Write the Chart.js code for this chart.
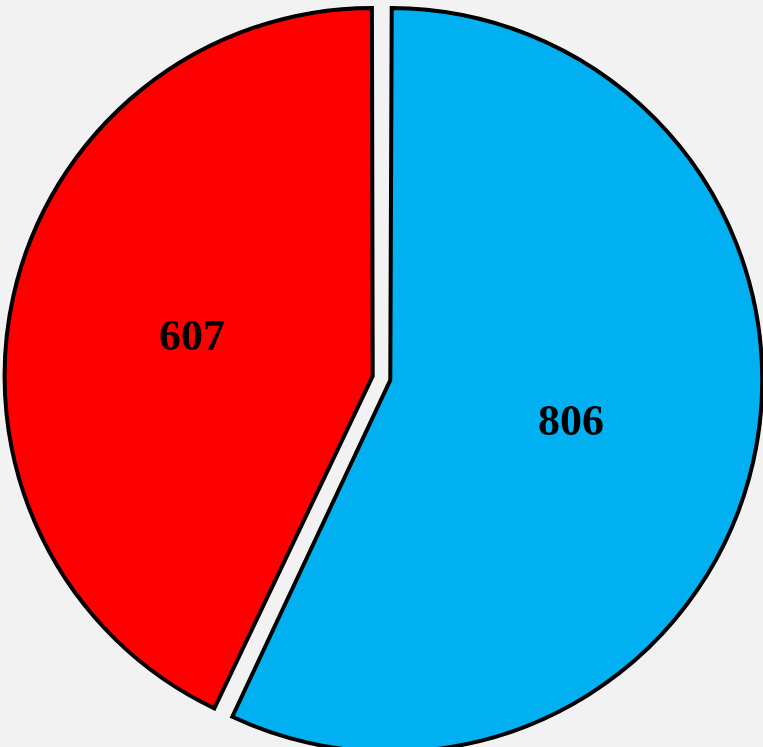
<!DOCTYPE html>
<html>
<head>
<meta charset="utf-8">
<script src="https://cdn.jsdelivr.net/npm/chart.js@4/dist/chart.umd.min.js"></script>
<style>
html,body{margin:0;padding:0;background:#F2F2F2;}
#wrap{width:763px;height:747px;}
</style>
</head>
<body>
<div id="wrap"><canvas id="c" width="763" height="747"></canvas></div>
<script>
const categories = ["B", "A"];
const values = [806, 607];
const colors = ["#00B0F0", "#FF0000"];

const labelPlugin = {
  id: 'sliceLabels',
  afterDatasetsDraw(chart) {
    const ctx = chart.ctx;
    const meta = chart.getDatasetMeta(0);
    ctx.save();
    ctx.font = 'bold 44px "Liberation Serif", "Times New Roman", Tinos, serif';
    ctx.fillStyle = '#000';
    ctx.textAlign = 'center';
    ctx.textBaseline = 'middle';
    meta.data.forEach((arc, i) => {
      const p = arc.getProps(['x','y','startAngle','endAngle','outerRadius']);
      const off = (arc.options.offset || 0) / 4;
      const mid = (p.startAngle + p.endAngle) / 2;
      const d = off + p.outerRadius * 0.51;
      ctx.fillText(String(chart.data.datasets[0].data[i]), p.x + Math.cos(mid) * d, p.y + Math.sin(mid) * d + 3);
    });
    ctx.restore();
  }
};

new Chart(document.getElementById('c'), {
  type: 'pie',
  data: {
    labels: categories,
    datasets: [{
      data: values,
      backgroundColor: colors,
      borderColor: '#000000',
      borderWidth: 4,
      offset: 36,
      borderJoinStyle: 'miter'
    }]
  },
  options: {
    responsive: false,
    animation: false,
    radius: 363,
    layout: { padding: { top: 9 } },
    plugins: {
      legend: { display: false },
      tooltip: { enabled: false }
    }
  },
  plugins: [labelPlugin]
});
</script>
</body>
</html>
